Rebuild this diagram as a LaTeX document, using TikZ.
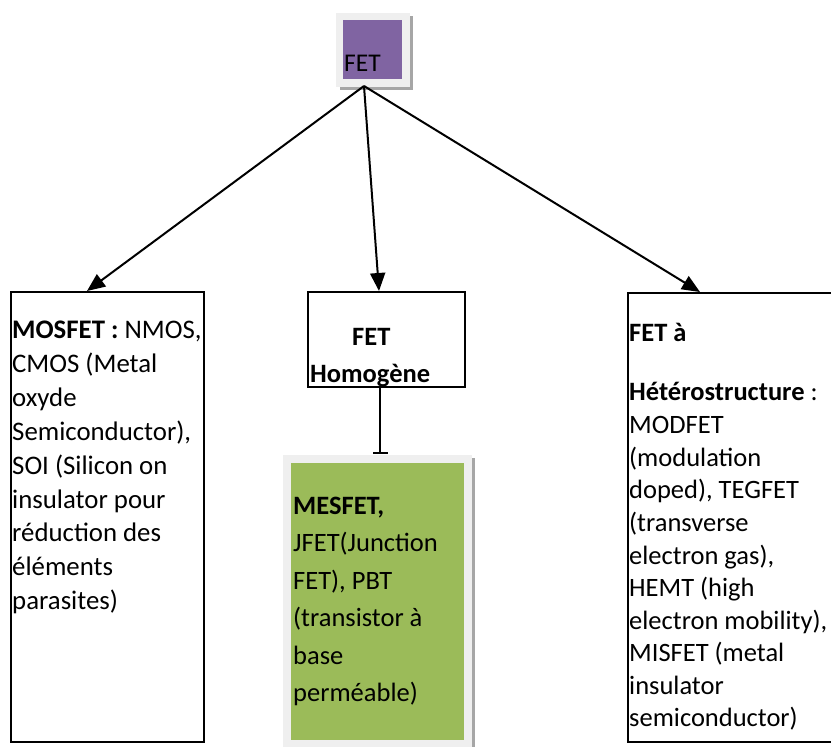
\documentclass[tikz,border=0pt]{standalone}
\usepackage{fontspec}
\setmainfont{Carlito}
\usetikzlibrary{arrows.meta}
\definecolor{fetpurple}{HTML}{8064A2}
\definecolor{fetgreen}{HTML}{9BBB59}
\definecolor{framegray}{HTML}{EFEFEF}
\definecolor{shadowgray}{HTML}{A6A6A6}
\tikzset{
  box/.style={draw=black, line width=1.5pt, fill=white, inner sep=0pt, anchor=north west},
  txt/.style={inner sep=0pt, anchor=base west, font=\fontsize{26.5}{32}\selectfont},
  ltxt/.style={txt, font=\fontsize{26.8}{32}\selectfont},
  arr/.style={line width=2pt, -{Triangle[length=18pt,width=15pt]}},
  teeline/.style={line width=2pt, -{Bar[width=15pt,line width=2.4pt]}}
}
\begin{document}
\begin{tikzpicture}[x=1pt,y=-1pt]
\useasboundingbox (0,0) rectangle (831,747);
\fill[white] (0,0) rectangle (831,747);
% top FET box
\fill[shadowgray] (340,16) rectangle (413,90);
\fill[framegray] (336,13) rectangle (410,87);
\node[fill=fetpurple, inner sep=0pt, minimum width=59pt, minimum height=59pt, anchor=north west] (fet) at (343,20) {};
\node[txt, font=\fontsize{25.5}{30}\selectfont] (fett) at (344,71) {FET};
\coordinate (apex) at (364,86);
% boxes
\node[box, minimum width=193pt, minimum height=450pt] (mos) at (10,291) {};
\node[box, minimum width=157pt, minimum height=95pt] (hom) at (307,291) {};
\node[box, minimum width=210pt, minimum height=449pt] (het) at (627,292) {};
% green box
\fill[shadowgray] (286,458) rectangle (475,747);
\fill[framegray] (283,455) rectangle (472,747);
\node[fill=fetgreen, inner sep=0pt, minimum width=173pt, minimum height=277pt, anchor=north west] (mes) at (291,463) {};
% arrows
\coordinate (t1) at (87,291);
\coordinate (t2) at (379,291);
\coordinate (t3) at (700,292);
\draw[arr] (apex) -- (t1);
\draw[arr] (apex) -- (t2);
\draw[arr] (apex) -- (t3);
\coordinate (hb) at (380,387);
\coordinate (mt) at (380,454);
\draw[teeline] (hb) -- (mt);
% left text
\node[ltxt] (l1) at (12,338) {\textbf{MOSFET :} NMOS,};
\node[ltxt] (l2) at (12,372) {CMOS (Metal};
\node[ltxt] (l3) at (12,406) {oxyde};
\node[ltxt] (l4) at (12,440) {Semiconductor),};
\node[ltxt] (l5) at (12,474) {SOI (Silicon on};
\node[ltxt] (l6) at (12,508) {insulator pour};
\node[ltxt] (l7) at (12,541) {réduction des};
\node[ltxt] (l8) at (12,575) {éléments};
\node[ltxt] (l9) at (12,609) {parasites)};
% middle text
\node[txt] (m1) at (352,345) {\textbf{FET}};
\node[txt] (m2) at (310,382) {\textbf{Homogène}};
% green text
\node[txt] (g1) at (293,514) {\textbf{MESFET,}};
\node[txt] (g2) at (293,551) {JFET(Junction};
\node[txt] (g3) at (293,589) {FET), PBT};
\node[txt] (g4) at (293,626) {(transistor à};
\node[txt] (g5) at (293,664) {base};
\node[txt] (g6) at (293,701) {perméable)};
% right text
\node[txt] (r1) at (629,341) {\textbf{FET à}};
\node[txt] (r2) at (629,400) {\textbf{Hétérostructure} :};
\node[txt] (r3) at (629,433) {MODFET};
\node[txt] (r4) at (629,466) {(modulation};
\node[txt] (r5) at (629,498) {doped), TEGFET};
\node[txt] (r6) at (629,531) {(transverse};
\node[txt] (r7) at (629,564) {electron gas),};
\node[txt] (r8) at (629,596) {HEMT (high};
\node[txt] (r9) at (629,629) {electron mobility),};
\node[txt] (r10) at (629,661) {MISFET (metal};
\node[txt] (r11) at (629,694) {insulator};
\node[txt] (r12) at (629,726) {semiconductor)};
\end{tikzpicture}
\end{document}
